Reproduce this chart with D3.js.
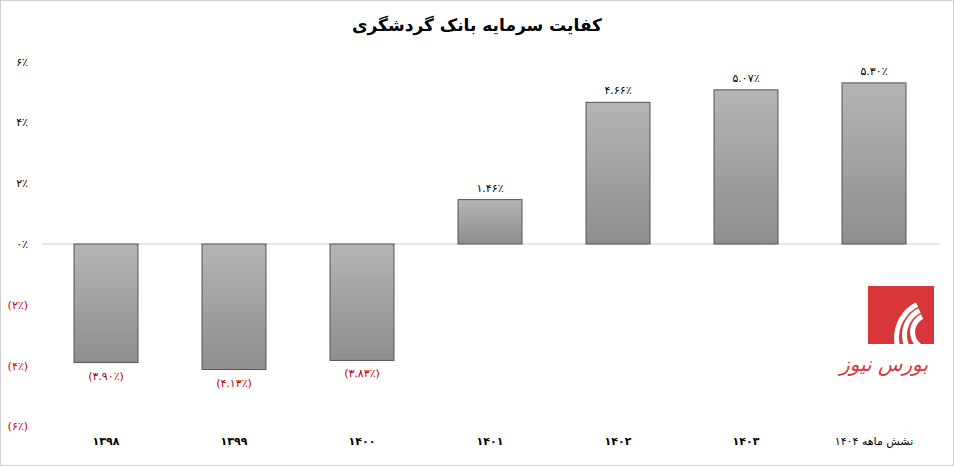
<!DOCTYPE html>
<html><head><meta charset="utf-8">
<script src="https://cdn.jsdelivr.net/npm/d3@7"></script>
<style>body{margin:0;background:#fff;font-family:"DejaVu Sans",sans-serif}</style>
</head><body><svg id="c" width="954" height="466"></svg>
<script>
const categories = ["1398", "1399", "1400", "1401", "1402", "1403", "نشش ماهه 1404"];
const values = [-3.90, -4.13, -3.83, 1.46, 4.66, 5.07, 5.30];
const yTicks = [-6, -4, -2, 0, 2, 4, 6];

const fa = s => String(s).replace(/\d/g, d => "۰۱۲۳۴۵۶۷۸۹"[d]);
const pct = v => v < 0 ? "(" + fa(Math.abs(v).toFixed(2)) + "٪)" : fa(v.toFixed(2)) + "٪";

const svg = d3.select("#c");
svg.append("rect").attr("x", 0.5).attr("y", 0.5).attr("width", 953).attr("height", 465)
  .attr("fill", "none").attr("stroke", "#d0d0d0");

const x = d3.scaleBand().domain(categories).range([42, 938]).paddingInner(0.5).paddingOuter(0.25);
const y = d3.scaleLinear().domain([-6, 6]).range([426.4, 61.6]);

const defs = svg.append("defs");
const g = defs.append("linearGradient").attr("id", "gr").attr("x1", 0).attr("y1", 0).attr("x2", 0).attr("y2", 1);
g.append("stop").attr("offset", "0%").attr("stop-color", "#b4b4b4");
g.append("stop").attr("offset", "100%").attr("stop-color", "#8e8e8e");

svg.append("text").attr("x", 477).attr("y", 31).attr("text-anchor", "middle")
  .attr("font-size", 17).attr("font-weight", "bold").text("کفایت سرمایه بانک گردشگری");

svg.selectAll(".yt").data(yTicks).join("text")
  .attr("x", 28).attr("y", d => y(d) + 4).attr("text-anchor", "end").attr("font-size", 11)
  .attr("fill", d => d < 0 ? "#c00000" : "#000")
  .text(d => d < 0 ? "(" + fa(-d) + "٪)" : fa(d) + "٪");

svg.append("line").attr("x1", 42).attr("x2", 940).attr("y1", y(0)).attr("y2", y(0)).attr("stroke", "#d0d0d0");

svg.selectAll(".bar").data(values).join("rect")
  .attr("x", (d, i) => x(categories[i])).attr("width", x.bandwidth())
  .attr("y", d => y(Math.max(0, d))).attr("height", d => Math.abs(y(d) - y(0)))
  .attr("fill", "url(#gr)").attr("stroke", "#555");

svg.selectAll(".vl").data(values).join("text")
  .attr("x", (d, i) => x(categories[i]) + x.bandwidth() / 2)
  .attr("y", d => d < 0 ? y(d) + 17 : y(d) - 8)
  .attr("text-anchor", "middle").attr("font-size", 11)
  .attr("fill", d => d < 0 ? "#c00000" : "#000").text(pct);

svg.selectAll(".xl").data(categories).join("text")
  .attr("x", d => x(d) + x.bandwidth() / 2).attr("y", 445)
  .attr("text-anchor", "middle").attr("font-size", 11)
  .attr("font-weight", (d, i) => i < 6 ? "bold" : "normal").text(fa);

// logo
const lg = svg.append("g").attr("transform", "translate(868,286)");
lg.append("rect").attr("width", 66).attr("height", 58).attr("fill", "#d9363b");
[[40, 30], [30, 22], [20, 14]].forEach(([r, w], i) => {
  lg.append("path").attr("d", d3.arc()({innerRadius: r - 5, outerRadius: r, startAngle: -Math.PI * 0.9, endAngle: -Math.PI * 0.15}))
    .attr("transform", `translate(${66 - i * 2},${52 - i * 3})`).attr("fill", "#fff");
});
lg.append("text").attr("x", 60).attr("y", 85).attr("text-anchor", "end").attr("font-size", 20)
  .attr("font-style", "italic").attr("fill", "#d9363b").text("بورس نیوز");
</script></body></html>
